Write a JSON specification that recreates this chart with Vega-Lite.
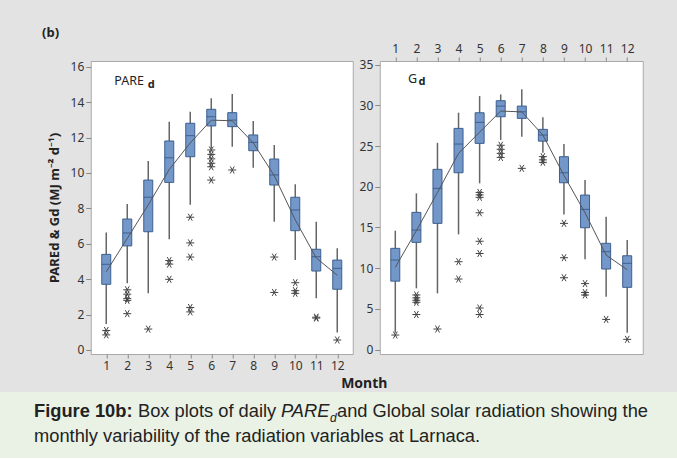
{
  "$schema": "https://vega.github.io/schema/vega-lite/v6.json",
  "background": "#e3e3e3",
  "padding": {"left": 0, "top": 26, "right": 0, "bottom": 0},
  "config": {
    "font": "Noto Sans",
    "view": {"stroke": "#a9a9a9", "fill": "white"},
    "axis": {"labelColor": "#333333", "tickColor": "#888888", "titleColor": "#222222", "labelFont": "Noto Sans", "titleFont": "Noto Sans", "grid": false, "domain": false}
  },
  "datasets": {
    "pare": [
      {"m": 1, "lo": 1.47, "q1": 3.71, "med": 4.84, "q3": 5.40, "hi": 6.63, "mean": 4.42},
      {"m": 2, "lo": 3.77, "q1": 5.88, "med": 6.61, "q3": 7.40, "hi": 8.25, "mean": 6.3},
      {"m": 3, "lo": 3.20, "q1": 6.68, "med": 8.63, "q3": 9.60, "hi": 10.68, "mean": 8.2},
      {"m": 4, "lo": 6.25, "q1": 9.47, "med": 10.86, "q3": 11.81, "hi": 12.9, "mean": 10.2},
      {"m": 5, "lo": 8.2, "q1": 10.92, "med": 12.11, "q3": 12.81, "hi": 13.46, "mean": 11.7},
      {"m": 6, "lo": 11.39, "q1": 12.66, "med": 13.18, "q3": 13.6, "hi": 14.22, "mean": 12.99},
      {"m": 7, "lo": 11.49, "q1": 12.62, "med": 12.99, "q3": 13.41, "hi": 14.46, "mean": 12.95},
      {"m": 8, "lo": 10.3, "q1": 11.26, "med": 11.73, "q3": 12.15, "hi": 12.94, "mean": 11.7},
      {"m": 9, "lo": 7.25, "q1": 9.32, "med": 9.89, "q3": 10.79, "hi": 11.58, "mean": 9.85},
      {"m": 10, "lo": 5.08, "q1": 6.74, "med": 7.91, "q3": 8.63, "hi": 9.36, "mean": 7.35},
      {"m": 11, "lo": 2.92, "q1": 4.46, "med": 5.27, "q3": 5.69, "hi": 7.25, "mean": 5.2},
      {"m": 12, "lo": 0.98, "q1": 3.43, "med": 4.61, "q3": 5.08, "hi": 5.74, "mean": 4.22}
    ],
    "pareOut": [
      {"m": 1, "v": 1.1}, {"m": 1, "v": 0.85},
      {"m": 2, "v": 3.4}, {"m": 2, "v": 3.15}, {"m": 2, "v": 2.9}, {"m": 2, "v": 2.8}, {"m": 2, "v": 2.05},
      {"m": 3, "v": 1.18},
      {"m": 4, "v": 5.05}, {"m": 4, "v": 4.85}, {"m": 4, "v": 3.99},
      {"m": 5, "v": 7.5}, {"m": 5, "v": 6.05}, {"m": 5, "v": 5.25}, {"m": 5, "v": 2.4}, {"m": 5, "v": 2.15},
      {"m": 6, "v": 11.3}, {"m": 6, "v": 11.05}, {"m": 6, "v": 10.8}, {"m": 6, "v": 10.55}, {"m": 6, "v": 10.35}, {"m": 6, "v": 9.6},
      {"m": 7, "v": 10.17},
      {"m": 9, "v": 5.25}, {"m": 9, "v": 3.25},
      {"m": 10, "v": 3.8}, {"m": 10, "v": 3.35}, {"m": 10, "v": 3.2},
      {"m": 11, "v": 1.85}, {"m": 11, "v": 1.8},
      {"m": 12, "v": 0.56}
    ],
    "g": [
      {"m": 1, "lo": 2.06, "q1": 8.4, "med": 11.0, "q3": 12.43, "hi": 14.6, "mean": 10.1},
      {"m": 2, "lo": 7.52, "q1": 13.17, "med": 14.68, "q3": 16.85, "hi": 19.19, "mean": 14.6},
      {"m": 3, "lo": 6.9, "q1": 15.5, "med": 19.8, "q3": 22.14, "hi": 25.4, "mean": 19.3},
      {"m": 4, "lo": 14.15, "q1": 21.72, "med": 25.25, "q3": 27.17, "hi": 29.1, "mean": 24.1},
      {"m": 5, "lo": 20.42, "q1": 25.33, "med": 27.91, "q3": 29.09, "hi": 31.14, "mean": 26.7},
      {"m": 6, "lo": 25.74, "q1": 28.6, "med": 29.91, "q3": 30.57, "hi": 31.35, "mean": 29.3},
      {"m": 7, "lo": 26.14, "q1": 28.4, "med": 29.21, "q3": 29.91, "hi": 31.97, "mean": 29.2},
      {"m": 8, "lo": 24.18, "q1": 25.6, "med": 26.35, "q3": 27.05, "hi": 28.53, "mean": 26.35},
      {"m": 9, "lo": 16.6, "q1": 20.49, "med": 21.72, "q3": 23.69, "hi": 25.25, "mean": 21.4},
      {"m": 10, "lo": 11.08, "q1": 14.96, "med": 17.22, "q3": 18.98, "hi": 20.82, "mean": 16.8},
      {"m": 11, "lo": 6.49, "q1": 9.89, "med": 12.02, "q3": 13.05, "hi": 16.31, "mean": 11.6},
      {"m": 12, "lo": 2.06, "q1": 7.64, "med": 10.59, "q3": 11.52, "hi": 13.45, "mean": 9.8}
    ],
    "gOut": [
      {"m": 1, "v": 1.78},
      {"m": 2, "v": 6.7}, {"m": 2, "v": 6.35}, {"m": 2, "v": 6.05}, {"m": 2, "v": 5.8}, {"m": 2, "v": 4.3},
      {"m": 3, "v": 2.52},
      {"m": 4, "v": 10.79}, {"m": 4, "v": 8.66},
      {"m": 5, "v": 19.3}, {"m": 5, "v": 19.0}, {"m": 5, "v": 18.7}, {"m": 5, "v": 16.8}, {"m": 5, "v": 13.3}, {"m": 5, "v": 11.8}, {"m": 5, "v": 5.1}, {"m": 5, "v": 4.3},
      {"m": 6, "v": 25.1}, {"m": 6, "v": 24.6}, {"m": 6, "v": 24.1}, {"m": 6, "v": 23.6},
      {"m": 7, "v": 22.26},
      {"m": 8, "v": 23.7}, {"m": 8, "v": 23.3}, {"m": 8, "v": 23.0},
      {"m": 9, "v": 15.5}, {"m": 9, "v": 11.28}, {"m": 9, "v": 8.82},
      {"m": 10, "v": 8.1}, {"m": 10, "v": 7.0}, {"m": 10, "v": 6.7},
      {"m": 11, "v": 3.7},
      {"m": 12, "v": 1.25}
    ]
  },
  "spacing": 1,
  "center": true,
  "vconcat": [
    {
      "spacing": 27,
      "bounds": "flush",
      "hconcat": [
        {
          "width": 262,
          "height": 293,
          "title": {"text": "(b)", "anchor": "start", "frame": "bounds", "fontSize": 13, "fontWeight": "bold", "color": "#222222", "offset": 21, "dx": -6},
          "layer": [
            {
              "data": {"name": "pare"},
              "mark": {"type": "rule", "color": "#666666", "strokeWidth": 1.5},
              "encoding": {
                "x": {"field": "m", "type": "quantitative", "scale": {"domain": [0.5, 12.5], "nice": false, "zero": false},
                  "axis": {"orient": "bottom", "values": [1,2,3,4,5,6,7,8,9,10,11,12], "title": "Month", "titleX": 273, "titleFontSize": 14, "titleFontWeight": "bold", "titlePadding": 5, "tickSize": 4, "labelFontSize": 12, "labelPadding": 2}},
                "y": {"field": "lo", "type": "quantitative", "scale": {"domain": [-0.23, 16.33], "nice": false, "zero": false},
                  "axis": {"values": [0,2,4,6,8,10,12,14,16], "title": "PAREd & Gd (MJ m⁻² d⁻¹)", "titleFontSize": 13, "titleFontWeight": "bold", "titlePadding": 9, "tickSize": 5, "labelFontSize": 12, "labelPadding": 2}},
                "y2": {"field": "hi"}
              }
            },
            {
              "data": {"name": "pare"},
              "mark": {"type": "bar", "size": 9, "fill": "#7397c9", "stroke": "#3d5f8e", "strokeWidth": 1},
              "encoding": {
                "x": {"field": "m", "type": "quantitative", "scale": {"domain": [0.5, 12.5], "nice": false, "zero": false},
                  "axis": {"orient": "bottom", "values": [1,2,3,4,5,6,7,8,9,10,11,12], "title": "Month", "titleX": 273, "titleFontSize": 14, "titleFontWeight": "bold", "titlePadding": 5, "tickSize": 4, "labelFontSize": 12, "labelPadding": 2}},
                "y": {"field": "q1", "type": "quantitative", "scale": {"domain": [-0.23, 16.33], "nice": false, "zero": false},
                  "axis": {"values": [0,2,4,6,8,10,12,14,16], "title": "PAREd & Gd (MJ m⁻² d⁻¹)", "titleFontSize": 13, "titleFontWeight": "bold", "titlePadding": 9, "tickSize": 5, "labelFontSize": 12, "labelPadding": 2}},
                "y2": {"field": "q3"}
              }
            },
            {
              "data": {"name": "pare"},
              "mark": {"type": "tick", "orient": "horizontal", "size": 9, "thickness": 1, "color": "#2c4a73"},
              "encoding": {
                "x": {"field": "m", "type": "quantitative", "scale": {"domain": [0.5, 12.5], "nice": false, "zero": false},
                  "axis": {"orient": "bottom", "values": [1,2,3,4,5,6,7,8,9,10,11,12], "title": "Month", "titleX": 273, "titleFontSize": 14, "titleFontWeight": "bold", "titlePadding": 5, "tickSize": 4, "labelFontSize": 12, "labelPadding": 2}},
                "y": {"field": "med", "type": "quantitative", "scale": {"domain": [-0.23, 16.33], "nice": false, "zero": false},
                  "axis": {"values": [0,2,4,6,8,10,12,14,16], "title": "PAREd & Gd (MJ m⁻² d⁻¹)", "titleFontSize": 13, "titleFontWeight": "bold", "titlePadding": 9, "tickSize": 5, "labelFontSize": 12, "labelPadding": 2}}
              }
            },
            {
              "data": {"name": "pare"},
              "mark": {"type": "line", "color": "#555555", "strokeWidth": 1},
              "encoding": {
                "x": {"field": "m", "type": "quantitative", "scale": {"domain": [0.5, 12.5], "nice": false, "zero": false},
                  "axis": {"orient": "bottom", "values": [1,2,3,4,5,6,7,8,9,10,11,12], "title": "Month", "titleX": 273, "titleFontSize": 14, "titleFontWeight": "bold", "titlePadding": 5, "tickSize": 4, "labelFontSize": 12, "labelPadding": 2}},
                "y": {"field": "mean", "type": "quantitative", "scale": {"domain": [-0.23, 16.33], "nice": false, "zero": false},
                  "axis": {"values": [0,2,4,6,8,10,12,14,16], "title": "PAREd & Gd (MJ m⁻² d⁻¹)", "titleFontSize": 13, "titleFontWeight": "bold", "titlePadding": 9, "tickSize": 5, "labelFontSize": 12, "labelPadding": 2}}
              }
            },
            {
              "data": {"name": "pareOut"},
              "mark": {"type": "point", "shape": "M-1,0L1,0M-0.5,-0.87L0.5,0.87M-0.5,0.87L0.5,-0.87", "size": 64, "filled": false, "stroke": "#444444", "strokeWidth": 1, "opacity": 1},
              "encoding": {
                "x": {"field": "m", "type": "quantitative", "scale": {"domain": [0.5, 12.5], "nice": false, "zero": false},
                  "axis": {"orient": "bottom", "values": [1,2,3,4,5,6,7,8,9,10,11,12], "title": "Month", "titleX": 273, "titleFontSize": 14, "titleFontWeight": "bold", "titlePadding": 5, "tickSize": 4, "labelFontSize": 12, "labelPadding": 2}},
                "y": {"field": "v", "type": "quantitative", "scale": {"domain": [-0.23, 16.33], "nice": false, "zero": false},
                  "axis": {"values": [0,2,4,6,8,10,12,14,16], "title": "PAREd & Gd (MJ m⁻² d⁻¹)", "titleFontSize": 13, "titleFontWeight": "bold", "titlePadding": 9, "tickSize": 5, "labelFontSize": 12, "labelPadding": 2}}
              }
            },
            {
              "data": {"values": [{"t": "PARE", "px": 1.38, "py": 14.97}]},
              "mark": {"type": "text", "align": "left", "baseline": "alphabetic", "fontSize": 12.5, "color": "#222222"},
              "encoding": {
                "x": {"field": "px", "type": "quantitative", "scale": {"domain": [0.5, 12.5], "nice": false, "zero": false},
                  "axis": {"orient": "bottom", "values": [1,2,3,4,5,6,7,8,9,10,11,12], "title": "Month", "titleX": 273, "titleFontSize": 14, "titleFontWeight": "bold", "titlePadding": 5, "tickSize": 4, "labelFontSize": 12, "labelPadding": 2}},
                "y": {"field": "py", "type": "quantitative", "scale": {"domain": [-0.23, 16.33], "nice": false, "zero": false},
                  "axis": {"values": [0,2,4,6,8,10,12,14,16], "title": "PAREd & Gd (MJ m⁻² d⁻¹)", "titleFontSize": 13, "titleFontWeight": "bold", "titlePadding": 9, "tickSize": 5, "labelFontSize": 12, "labelPadding": 2}},
                "text": {"field": "t"}
              }
            },
            {
              "data": {"values": [{"t": "d", "px": 2.98, "py": 14.78}]},
              "mark": {"type": "text", "align": "left", "baseline": "alphabetic", "fontSize": 11, "fontWeight": "bold", "color": "#222222"},
              "encoding": {
                "x": {"field": "px", "type": "quantitative", "scale": {"domain": [0.5, 12.5], "nice": false, "zero": false},
                  "axis": {"orient": "bottom", "values": [1,2,3,4,5,6,7,8,9,10,11,12], "title": "Month", "titleX": 273, "titleFontSize": 14, "titleFontWeight": "bold", "titlePadding": 5, "tickSize": 4, "labelFontSize": 12, "labelPadding": 2}},
                "y": {"field": "py", "type": "quantitative", "scale": {"domain": [-0.23, 16.33], "nice": false, "zero": false},
                  "axis": {"values": [0,2,4,6,8,10,12,14,16], "title": "PAREd & Gd (MJ m⁻² d⁻¹)", "titleFontSize": 13, "titleFontWeight": "bold", "titlePadding": 9, "tickSize": 5, "labelFontSize": 12, "labelPadding": 2}},
                "text": {"field": "t"}
              }
            }
          ]
        },
        {
          "width": 263,
          "height": 293,
          "layer": [
            {
              "data": {"name": "g"},
              "mark": {"type": "rule", "color": "#666666", "strokeWidth": 1.5},
              "encoding": {
                "x": {"field": "m", "type": "quantitative", "scale": {"domain": [0.5, 12.5], "nice": false, "zero": false},
                  "axis": {"orient": "top", "values": [1,2,3,4,5,6,7,8,9,10,11,12], "title": null, "tickSize": 4, "labelFontSize": 12, "labelPadding": 2}},
                "y": {"field": "lo", "type": "quantitative", "scale": {"domain": [-0.55, 35.45], "nice": false, "zero": false},
                  "axis": {"values": [0,5,10,15,20,25,30,35], "title": null, "tickSize": 5, "labelFontSize": 12, "labelPadding": 2}},
                "y2": {"field": "hi"}
              }
            },
            {
              "data": {"name": "g"},
              "mark": {"type": "bar", "size": 9, "fill": "#7397c9", "stroke": "#3d5f8e", "strokeWidth": 1},
              "encoding": {
                "x": {"field": "m", "type": "quantitative", "scale": {"domain": [0.5, 12.5], "nice": false, "zero": false},
                  "axis": {"orient": "top", "values": [1,2,3,4,5,6,7,8,9,10,11,12], "title": null, "tickSize": 4, "labelFontSize": 12, "labelPadding": 2}},
                "y": {"field": "q1", "type": "quantitative", "scale": {"domain": [-0.55, 35.45], "nice": false, "zero": false},
                  "axis": {"values": [0,5,10,15,20,25,30,35], "title": null, "tickSize": 5, "labelFontSize": 12, "labelPadding": 2}},
                "y2": {"field": "q3"}
              }
            },
            {
              "data": {"name": "g"},
              "mark": {"type": "tick", "orient": "horizontal", "size": 9, "thickness": 1, "color": "#2c4a73"},
              "encoding": {
                "x": {"field": "m", "type": "quantitative", "scale": {"domain": [0.5, 12.5], "nice": false, "zero": false},
                  "axis": {"orient": "top", "values": [1,2,3,4,5,6,7,8,9,10,11,12], "title": null, "tickSize": 4, "labelFontSize": 12, "labelPadding": 2}},
                "y": {"field": "med", "type": "quantitative", "scale": {"domain": [-0.55, 35.45], "nice": false, "zero": false},
                  "axis": {"values": [0,5,10,15,20,25,30,35], "title": null, "tickSize": 5, "labelFontSize": 12, "labelPadding": 2}}
              }
            },
            {
              "data": {"name": "g"},
              "mark": {"type": "line", "color": "#555555", "strokeWidth": 1},
              "encoding": {
                "x": {"field": "m", "type": "quantitative", "scale": {"domain": [0.5, 12.5], "nice": false, "zero": false},
                  "axis": {"orient": "top", "values": [1,2,3,4,5,6,7,8,9,10,11,12], "title": null, "tickSize": 4, "labelFontSize": 12, "labelPadding": 2}},
                "y": {"field": "mean", "type": "quantitative", "scale": {"domain": [-0.55, 35.45], "nice": false, "zero": false},
                  "axis": {"values": [0,5,10,15,20,25,30,35], "title": null, "tickSize": 5, "labelFontSize": 12, "labelPadding": 2}}
              }
            },
            {
              "data": {"name": "gOut"},
              "mark": {"type": "point", "shape": "M-1,0L1,0M-0.5,-0.87L0.5,0.87M-0.5,0.87L0.5,-0.87", "size": 64, "filled": false, "stroke": "#444444", "strokeWidth": 1, "opacity": 1},
              "encoding": {
                "x": {"field": "m", "type": "quantitative", "scale": {"domain": [0.5, 12.5], "nice": false, "zero": false},
                  "axis": {"orient": "top", "values": [1,2,3,4,5,6,7,8,9,10,11,12], "title": null, "tickSize": 4, "labelFontSize": 12, "labelPadding": 2}},
                "y": {"field": "v", "type": "quantitative", "scale": {"domain": [-0.55, 35.45], "nice": false, "zero": false},
                  "axis": {"values": [0,5,10,15,20,25,30,35], "title": null, "tickSize": 5, "labelFontSize": 12, "labelPadding": 2}}
              }
            },
            {
              "data": {"values": [{"t": "G", "px": 1.6, "py": 32.7}]},
              "mark": {"type": "text", "align": "left", "baseline": "alphabetic", "fontSize": 12.5, "color": "#222222"},
              "encoding": {
                "x": {"field": "px", "type": "quantitative", "scale": {"domain": [0.5, 12.5], "nice": false, "zero": false},
                  "axis": {"orient": "top", "values": [1,2,3,4,5,6,7,8,9,10,11,12], "title": null, "tickSize": 4, "labelFontSize": 12, "labelPadding": 2}},
                "y": {"field": "py", "type": "quantitative", "scale": {"domain": [-0.55, 35.45], "nice": false, "zero": false},
                  "axis": {"values": [0,5,10,15,20,25,30,35], "title": null, "tickSize": 5, "labelFontSize": 12, "labelPadding": 2}},
                "text": {"field": "t"}
              }
            },
            {
              "data": {"values": [{"t": "d", "px": 2.1, "py": 32.5}]},
              "mark": {"type": "text", "align": "left", "baseline": "alphabetic", "fontSize": 11, "fontWeight": "bold", "color": "#222222"},
              "encoding": {
                "x": {"field": "px", "type": "quantitative", "scale": {"domain": [0.5, 12.5], "nice": false, "zero": false},
                  "axis": {"orient": "top", "values": [1,2,3,4,5,6,7,8,9,10,11,12], "title": null, "tickSize": 4, "labelFontSize": 12, "labelPadding": 2}},
                "y": {"field": "py", "type": "quantitative", "scale": {"domain": [-0.55, 35.45], "nice": false, "zero": false},
                  "axis": {"values": [0,5,10,15,20,25,30,35], "title": null, "tickSize": 5, "labelFontSize": 12, "labelPadding": 2}},
                "text": {"field": "t"}
              }
            }
          ]
        }
      ]
    },
    {
      "width": 734,
      "height": 66,
      "view": {"fill": "#eaf2e6", "stroke": null},
      "layer": [
        {
          "data": {"values": [{"t": "Figure 10b:"}]},
          "mark": {"type": "text", "align": "left", "baseline": "alphabetic", "font": "Liberation Sans", "fontSize": 18.3, "fontWeight": "bold", "color": "#222222", "dx": -333, "dy": -8},
          "encoding": {"text": {"field": "t"}}
        },
        {
          "data": {"values": [{"t": "Box plots of daily"}]},
          "mark": {"type": "text", "align": "left", "baseline": "alphabetic", "font": "Liberation Sans", "fontSize": 18.3, "color": "#222222", "dx": -229, "dy": -8},
          "encoding": {"text": {"field": "t"}}
        },
        {
          "data": {"values": [{"t": "PARE"}]},
          "mark": {"type": "text", "align": "left", "baseline": "alphabetic", "font": "Liberation Sans", "fontSize": 18.3, "fontStyle": "italic", "color": "#222222", "dx": -86, "dy": -8},
          "encoding": {"text": {"field": "t"}}
        },
        {
          "data": {"values": [{"t": "d"}]},
          "mark": {"type": "text", "align": "left", "baseline": "alphabetic", "font": "Liberation Sans", "fontSize": 12, "fontStyle": "italic", "color": "#222222", "dx": -37, "dy": -3},
          "encoding": {"text": {"field": "t"}}
        },
        {
          "data": {"values": [{"t": "and Global solar radiation showing the"}]},
          "mark": {"type": "text", "align": "left", "baseline": "alphabetic", "font": "Liberation Sans", "fontSize": 18.3, "color": "#222222", "dx": -30, "dy": -8},
          "encoding": {"text": {"field": "t"}}
        },
        {
          "data": {"values": [{"t": "monthly variability of the radiation variables at Larnaca."}]},
          "mark": {"type": "text", "align": "left", "baseline": "alphabetic", "font": "Liberation Sans", "fontSize": 18.3, "color": "#222222", "dx": -333, "dy": 17},
          "encoding": {"text": {"field": "t"}}
        }
      ]
    }
  ]
}
